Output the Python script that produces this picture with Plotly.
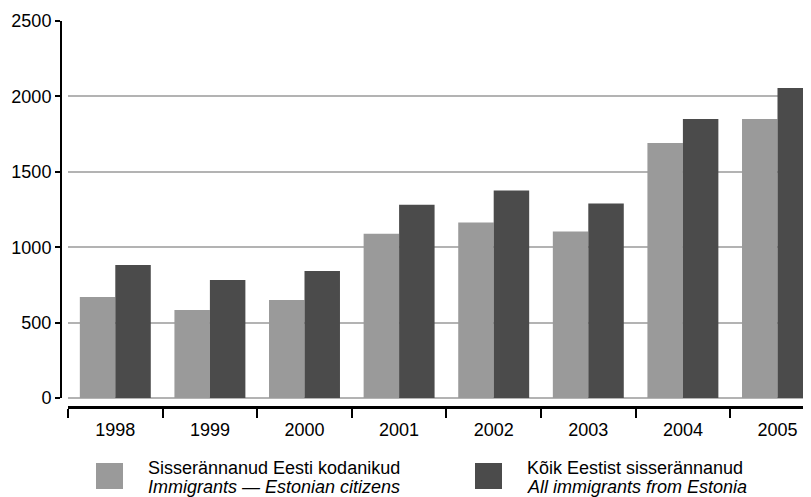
import plotly.graph_objects as go

years = ["1998", "1999", "2000", "2001", "2002", "2003", "2004", "2005"]
estonian_citizens = [670, 584, 650, 1090, 1163, 1104, 1691, 1850]
all_from_estonia = [882, 782, 842, 1282, 1376, 1290, 1850, 2056]

name_citizens = "Sisserännanud Eesti kodanikud"
name_citizens_en = "Immigrants — Estonian citizens"
name_all = "Kõik Eestist sisserännanud"
name_all_en = "All immigrants from Estonia"

light = "#9a9a9a"
dark = "#4b4b4b"
grid = "#b3b3b3"
font = "Liberation Sans, Arial, sans-serif"

# the page body adds an 8px margin, so the figure is 8px smaller and all
# screen positions below are shifted back by that amount
OFF = 8
W, H = 811 - OFF, 497 - OFF
L, R, T, B = 61 - OFF, 0, 21 - OFF, 90
pw, ph = W - L - R, H - T - B


def px_x(x):
    return (x - OFF - L) / pw


def px_y(y):
    return (H - B - (y - OFF)) / ph


fig = go.Figure()
fig.add_trace(go.Bar(x=years, y=estonian_citizens, name=name_citizens,
                     marker=dict(color=light, line=dict(width=0))))
fig.add_trace(go.Bar(x=years, y=all_from_estonia, name=name_all,
                     marker=dict(color=dark, line=dict(width=0))))

fig.update_layout(
    width=W, height=H,
    margin=dict(l=L, r=R, t=T, b=B, autoexpand=False),
    paper_bgcolor="white", plot_bgcolor="white",
    barmode="group", bargap=0.25, bargroupgap=0,
    showlegend=False,
    font=dict(family=font, size=18, color="black"),
    xaxis=dict(
        type="category",
        domain=[px_x(68), 1],
        range=[-0.5, -0.5 + (811 - 68) / 94.6],
        anchor="free", position=0,
        showline=True, linecolor="black", linewidth=3,
        ticks="outside", tickson="boundaries", ticklen=9, tickwidth=1.5,
        tickcolor="black", ticklabelstandoff=5,
        showgrid=False, zeroline=False,
        tickfont=dict(size=18),
    ),
    yaxis=dict(
        domain=[px_y(398), 1],
        range=[0, 2500],
        tickvals=[0, 500, 1000, 1500, 2000, 2500],
        anchor="free", position=0,
        showline=True, linecolor="black", linewidth=2,
        ticks="outside", ticklen=5, tickwidth=1.5, tickcolor="black",
        showgrid=True, gridcolor=grid, gridwidth=1.5,
        zeroline=True, zerolinecolor=grid, zerolinewidth=1.5,
        tickfont=dict(size=18),
    ),
)

# legend drawn by hand: large square swatches and two-line labels
legend_items = [
    (96, light, name_citizens, name_citizens_en),
    (475, dark, name_all, name_all_en),
]
for x0, color, line1, line2 in legend_items:
    fig.add_shape(type="rect", xref="paper", yref="paper",
                  x0=px_x(x0), x1=px_x(x0 + 27), y0=px_y(463), y1=px_y(489),
                  fillcolor=color, line=dict(width=0))
    fig.add_annotation(xref="paper", yref="paper", x=px_x(x0 + 50), y=px_y(468),
                       text=line1, showarrow=False, xanchor="left", yanchor="middle",
                       font=dict(size=18))
    fig.add_annotation(xref="paper", yref="paper", x=px_x(x0 + 50), y=px_y(487),
                       text="<i>" + line2 + "</i>", showarrow=False,
                       xanchor="left", yanchor="middle", font=dict(size=18))

fig.write_html("out.html")
